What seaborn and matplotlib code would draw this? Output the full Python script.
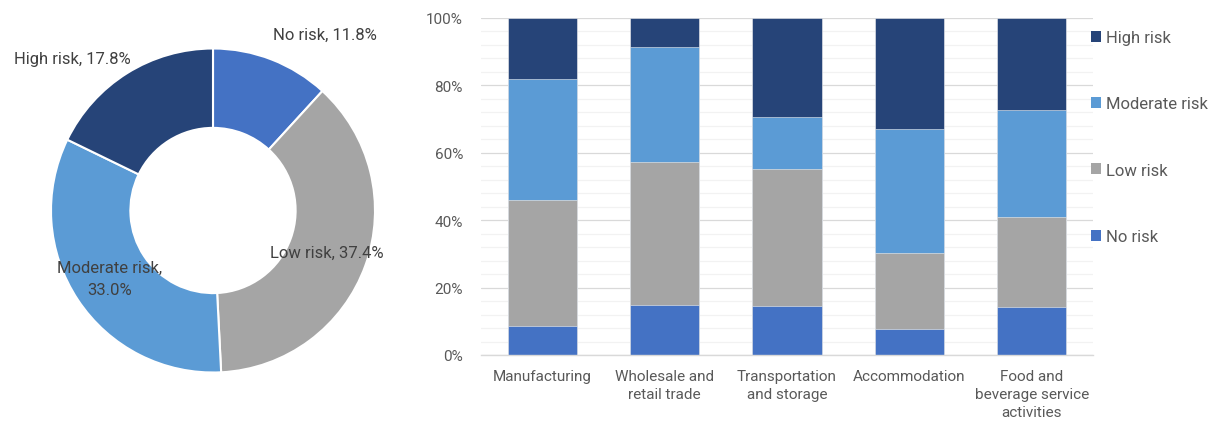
import numpy as np
import pandas as pd
import matplotlib
matplotlib.use("Agg")
import matplotlib.pyplot as plt
from matplotlib.patches import Patch
import seaborn as sns

# ---------------- data ----------------
pie_labels = ["No risk", "Low risk", "Moderate risk", "High risk"]
pie_values = [11.8, 37.4, 33.0, 17.8]

categories = ["Manufacturing", "Wholesale and\nretail trade", "Transportation\nand storage",
              "Accommodation", "Food and\nbeverage service\nactivities"]
no_risk = [8.7, 14.7, 14.5, 7.8, 14.1]
low_risk = [37.2, 42.5, 40.8, 22.4, 26.8]
moderate_risk = [35.9, 34.2, 15.3, 36.8, 31.7]
high_risk = [18.2, 8.6, 29.4, 33.0, 27.4]

y_ticks = [0, 20, 40, 60, 80, 100]
y_tick_labels = ["0%", "20%", "40%", "60%", "80%", "100%"]

colors = {"No risk": "#4472C4", "Low risk": "#A5A5A5",
          "Moderate risk": "#5B9BD5", "High risk": "#264478"}

# ---------------- style ----------------
sns.set_theme(style="white")
plt.rcParams["font.family"] = ["Roboto", "DejaVu Sans"]
text_col = "#404040"
tick_col = "#595959"
fs = 11
fs_big = 12

W, H = 1216, 427
fig = plt.figure(figsize=(W / 100, H / 100), dpi=100)

# ---------------- donut ----------------
cx, cy, R = 213, 211.5, 162
scale = 1.35
axp = fig.add_axes([(cx - R * scale) / W, (H - cy - R * scale) / H,
                    2 * R * scale / W, 2 * R * scale / H])
axp.pie(pie_values, colors=[colors[l] for l in pie_labels], startangle=90,
        counterclock=False, radius=1,
        wedgeprops=dict(width=0.49, edgecolor="white", linewidth=1.5))
axp.set_xlim(-scale, scale)
axp.set_ylim(-scale, scale)
axp.set_aspect("equal")
axp.axis("off")

label_pos = {"No risk": (0.69, 1.09), "High risk": (-0.87, 0.94),
             "Low risk": (0.70, -0.26), "Moderate risk": (-0.64, -0.42)}
for lab, val in zip(pie_labels, pie_values):
    txt = f"{lab}, {val:.1f}%"
    if lab == "Moderate risk":
        txt = f"{lab},\n{val:.1f}%"
    x, y = label_pos[lab]
    axp.text(x, y, txt, ha="center", va="center", fontsize=fs_big, color=text_col,
             linespacing=1.55)

# ---------------- stacked bars ----------------
left, right, top, bottom = 481, 1093, 19, 356
axb = fig.add_axes([left / W, (H - bottom) / H, (right - left) / W, (bottom - top) / H])

df = pd.DataFrame({"category": categories, "No risk": no_risk, "Low risk": low_risk,
                   "Moderate risk": moderate_risk, "High risk": high_risk})
order_stack = ["No risk", "Low risk", "Moderate risk", "High risk"]
cum = df[order_stack].cumsum(axis=1)

for lab in reversed(order_stack):
    sns.barplot(x=df["category"], y=cum[lab], color=colors[lab], ax=axb,
                width=0.565, saturation=1, edgecolor="#F0F0F0", linewidth=0.4,
                order=categories)

axb.set_ylim(0, 100)
axb.set_xlim(-0.5, len(categories) - 0.5)
axb.set_yticks(y_ticks)
axb.set_yticklabels(y_tick_labels)
axb.set_yticks(np.arange(0, 101, 4), minor=True)
axb.grid(axis="y", which="major", color="#D9D9D9", linewidth=0.9)
axb.grid(axis="y", which="minor", color="#F2F2F2", linewidth=0.9)
axb.set_axisbelow(True)
axb.set_xlabel("")
axb.set_ylabel("")
for s in ["top", "right", "left"]:
    axb.spines[s].set_visible(False)
axb.spines["bottom"].set_color("#D9D9D9")
axb.spines["bottom"].set_linewidth(1)
axb.tick_params(axis="both", which="both", length=0, labelsize=fs, labelcolor=tick_col)
axb.tick_params(axis="x", pad=10)
axb.tick_params(axis="y", pad=13)
for t in axb.get_xticklabels():
    t.set_linespacing(1.35)
    t.set_va("top")

legend_order = ["High risk", "Moderate risk", "Low risk", "No risk"]
handles = [Patch(facecolor=colors[l], edgecolor="none") for l in legend_order]
leg = fig.legend(handles, legend_order, loc="upper left",
                 bbox_to_anchor=(1091 / W, 1 - 31 / H), frameon=False,
                 fontsize=fs_big, labelcolor=tick_col, handlelength=0.62, handleheight=0.62,
                 handletextpad=0.3, labelspacing=3.08, borderpad=0, borderaxespad=0)

fig.savefig("out.png", dpi=100, facecolor="white")
